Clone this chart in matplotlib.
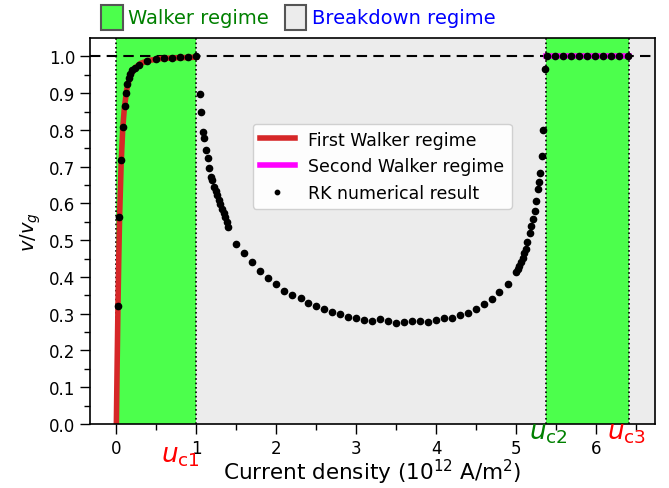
# Velocidade da parede de domínio x densidade de corrente
import matplotlib.pyplot as plt
from matplotlib.patches import Patch

# Limites dos regimes (10^12 A/m^2)
uc1 = 1.0
uc2 = 5.375
uc3 = 6.41

# Primeiro regime de Walker (curva)
walker1_u = [0.0, 0.005, 0.01, 0.02, 0.03, 0.04, 0.06, 0.08, 0.10, 0.13, 0.17,
             0.22, 0.30, 0.40, 0.55, 0.70, 0.85, 1.0]
walker1_v = [0.0, 0.085, 0.167, 0.32, 0.45, 0.56, 0.71, 0.805, 0.86, 0.91, 0.945,
             0.966, 0.981, 0.989, 0.994, 0.996, 0.997, 0.998]

# Segundo regime de Walker
walker2_u = [uc2, uc3]
walker2_v = [1.0, 1.0]

# Resultado numérico (Runge-Kutta)
rk_u = [0.02, 0.0375, 0.0625, 0.083, 0.104, 0.121, 0.133, 0.154, 0.175, 0.2,
        0.23, 0.28, 0.38, 0.49, 0.59, 0.70, 0.80, 0.90, 1.0,
        1.04, 1.06, 1.08, 1.10, 1.12, 1.14, 1.16, 1.18, 1.20, 1.22,
        1.24, 1.26, 1.28, 1.30, 1.32, 1.34, 1.36, 1.38, 1.40,
        1.5, 1.6, 1.7, 1.8, 1.9, 2.0, 2.1, 2.2, 2.31, 2.4, 2.5, 2.6, 2.7,
        2.8, 2.9, 3.0, 3.1, 3.2, 3.3, 3.4, 3.5, 3.6, 3.7, 3.8, 3.9, 4.0,
        4.1, 4.2, 4.3, 4.4, 4.5, 4.6, 4.7, 4.79, 4.9,
        5.0, 5.02, 5.04, 5.06, 5.08, 5.10, 5.12, 5.14, 5.17, 5.19, 5.21,
        5.23, 5.25, 5.27, 5.29, 5.30, 5.32, 5.34, 5.36,
        5.38, 5.48, 5.58, 5.68, 5.78, 5.88, 5.98, 6.08, 6.18, 6.28, 6.40]
rk_v = [0.321, 0.563, 0.717, 0.809, 0.864, 0.90, 0.924, 0.942, 0.953, 0.962,
        0.970, 0.978, 0.989, 0.992, 0.995, 0.996, 0.998, 0.999, 1.0,
        0.897, 0.849, 0.795, 0.779, 0.745, 0.724, 0.697, 0.673, 0.664, 0.645,
        0.633, 0.622, 0.610, 0.598, 0.586, 0.574, 0.562, 0.550, 0.537,
        0.491, 0.465, 0.441, 0.415, 0.397, 0.380, 0.363, 0.351, 0.342, 0.328,
        0.320, 0.312, 0.305, 0.298, 0.292, 0.287, 0.283, 0.280, 0.285, 0.279,
        0.274, 0.277, 0.281, 0.280, 0.277, 0.283, 0.289, 0.289, 0.297, 0.303,
        0.314, 0.326, 0.340, 0.360, 0.380,
        0.414, 0.422, 0.431, 0.441, 0.452, 0.464, 0.477, 0.494, 0.521, 0.539,
        0.557, 0.580, 0.607, 0.639, 0.659, 0.684, 0.729, 0.80, 0.967,
        1.0, 1.0, 1.0, 1.0, 1.0, 1.0, 1.0, 1.0, 1.0, 1.0, 1.0]

verde = '#4cff4c'
cinza = '#ececec'

fig = plt.figure(figsize=(6.69, 4.89), dpi=100)
ax = fig.add_axes([0.1345, 0.131, 0.845, 0.789])

xmin, xmax = -0.33, 6.74

# Regiões
ax.axvspan(0, xmax, color=cinza, zorder=0, lw=0)
ax.axvspan(0, uc1, color=verde, zorder=0.5, lw=0)
ax.axvspan(uc2, uc3, color=verde, zorder=0.5, lw=0)
for xv in [0, uc1, uc2, uc3]:
    ax.axvline(xv, color='k', ls=':', lw=1.2, zorder=1)
ax.axhline(1.0, color='k', ls='--', lw=1.5, dashes=(5, 3), zorder=1)

# Curvas
ax.plot(walker1_u, walker1_v, color='#d62728', lw=4, zorder=2,
        label='First Walker regime')
ax.plot(walker2_u, walker2_v, color='magenta', lw=4, zorder=2,
        label='Second Walker regime')
ax.plot(rk_u, rk_v, 'o', color='k', ms=4.5, zorder=3, label='RK numerical result')

ax.set_xlim(xmin, xmax)
ax.set_ylim(0, 1.05)
ax.set_xticks([0, 1, 2, 3, 4, 5, 6])
ax.set_xticks([0.5, 1.5, 2.5, 3.5, 4.5, 5.5, 6.5], minor=True)
ax.set_yticks([i / 10 for i in range(11)])
ax.set_yticks([i / 20 for i in range(1, 21, 2)], minor=True)
ax.tick_params(which='major', length=7, width=1, labelsize=12)
ax.tick_params(which='minor', length=4, width=1)
for s in ax.spines.values():
    s.set_linewidth(1.2)

ax.set_ylabel('$v/v_g$', fontsize=14)
ax.set_xlabel('Current density (10$^{12}$ A/m$^2$)', fontsize=15.5, labelpad=0)

# Rótulos das correntes críticas
ax.text(0.8, -0.08, r'$u_{\rm c1}$', color='red', fontsize=19,
        ha='center', va='center', transform=ax.get_xaxis_transform())
ax.text(5.4, -0.022, r'$u_{\rm c2}$', color='green', fontsize=19,
        ha='center', va='center', transform=ax.get_xaxis_transform())
ax.text(6.38, -0.022, r'$u_{\rm c3}$', color='red', fontsize=19,
        ha='center', va='center', transform=ax.get_xaxis_transform())

# Legenda interna
leg = ax.legend(loc='center', bbox_to_anchor=(0.517, 0.668), fontsize=12.5,
                framealpha=0.9, markerscale=0.7)

# Legenda dos regimes (acima do gráfico)
handles = [Patch(facecolor=verde, edgecolor='#555555', lw=1.5),
           Patch(facecolor=cinza, edgecolor='#555555', lw=1.5)]
leg2 = fig.legend(handles, ['Walker regime', 'Breakdown regime'], loc='center left',
                  bbox_to_anchor=(0.125, 0.963), ncol=2, frameon=False, fontsize=14,
                  handlelength=1.1, handleheight=1.6, handletextpad=0.3,
                  columnspacing=0.8)
leg2.get_texts()[0].set_color('green')
leg2.get_texts()[1].set_color('blue')

fig.savefig('out.png', dpi=100)
